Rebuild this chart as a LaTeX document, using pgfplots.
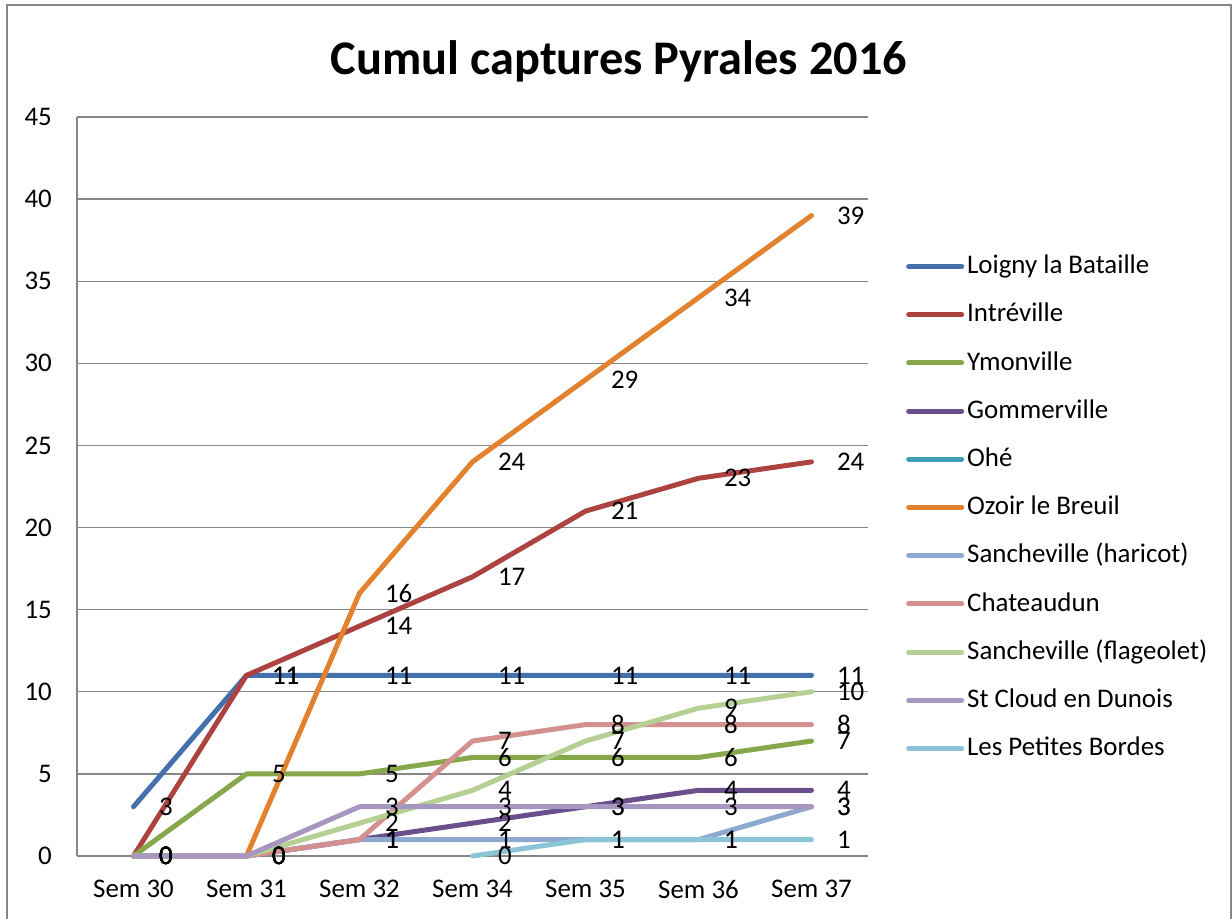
\documentclass[border=0pt]{standalone}
\usepackage{pgfplots}
\pgfplotsset{compat=1.18}
\usepackage{fontspec}
\setmainfont{Carlito}
\definecolor{cLoigny}{HTML}{4470AE}
\definecolor{cIntre}{HTML}{AD4340}
\definecolor{cYmon}{HTML}{86A84A}
\definecolor{cGomm}{HTML}{6B4F8C}
\definecolor{cOhe}{HTML}{3D9DB5}
\definecolor{cOzoir}{HTML}{E2822F}
\definecolor{cHari}{HTML}{8EA8D0}
\definecolor{cChat}{HTML}{D4908E}
\definecolor{cFlag}{HTML}{B6CF92}
\definecolor{cStCl}{HTML}{A797C0}
\definecolor{cPB}{HTML}{8BC4D6}
\definecolor{axgray}{HTML}{868686}
\begin{document}
\begin{tikzpicture}
\begin{axis}[
  at={(77bp,63bp)}, anchor=south west,
  scale only axis, width=791bp, height=739bp,
  xmin=-0.5, xmax=6.5, ymin=0, ymax=45,
  xtick={0,...,6},
  xticklabels={Sem 30,Sem 31,Sem 32,Sem 34,Sem 35,Sem 36,Sem 37},
  ytick={0,5,...,45},
  axis x line*=bottom, axis y line*=left,
  axis line style={draw=axgray, line width=1.4bp, -},
  tick style={draw=none},
  ymajorgrids, grid style={draw=axgray, line width=1.4bp},
  /pgf/number format/assume math mode=true,
  tick label style={font=\fontsize{27}{31}\selectfont, inner sep=0pt},
  yticklabel style={anchor=east, xshift=-25bp},
  xticklabel style={anchor=north, yshift=-24bp},
  clip=false,
  every axis plot/.append style={line width=5bp, line join=round, line cap=round},
  nodes near coords,
  every node near coord/.append style={anchor=west, xshift=23bp, inner sep=0pt, text=black, font=\fontsize{27}{31}\selectfont},
  legend cell align=left,
  legend image code/.code={\draw[#1] (0bp,0bp) -- (53bp,0bp);},
  legend style={at={(1.048,0.4716)}, anchor=west, draw=none, fill=none,
    inner sep=0pt, row sep=23.6bp,
    font=\fontsize{27}{31}\selectfont,
    nodes={inner sep=0pt, text height=19.5bp, text depth=5.1bp},
    /tikz/every odd column/.append style={column sep=3bp}},
]
\addplot[cLoigny] coordinates {(0,3)(1,11)(2,11)(3,11)(4,11)(5,11)(6,11)};
\addlegendentry{Loigny la Bataille}
\addplot[cIntre] coordinates {(0,0)(1,11)(2,14)(3,17)(4,21)(5,23)(6,24)};
\addlegendentry{Intréville}
\addplot[cYmon] coordinates {(0,0)(1,5)(2,5)(3,6)(4,6)(5,6)(6,7)};
\addlegendentry{Ymonville}
\addplot[cGomm] coordinates {(0,0)(1,0)(2,1)(3,2)(4,3)(5,4)(6,4)};
\addlegendentry{Gommerville}
\addlegendimage{cOhe, line width=5bp, line cap=round}
\addlegendentry{Ohé}
\addplot[cOzoir] coordinates {(1,0)(2,16)(3,24)(4,29)(5,34)(6,39)};
\addlegendentry{Ozoir le Breuil}
\addplot[cHari] coordinates {(0,0)(1,0)(2,1)(3,1)(4,1)(5,1)(6,3)};
\addlegendentry{Sancheville (haricot)}
\addplot[cChat] coordinates {(0,0)(1,0)(2,1)(3,7)(4,8)(5,8)(6,8)};
\addlegendentry{Chateaudun}
\addplot[cFlag] coordinates {(0,0)(1,0)(2,2)(3,4)(4,7)(5,9)(6,10)};
\addlegendentry{Sancheville (flageolet)}
\addplot[cStCl] coordinates {(0,0)(1,0)(2,3)(3,3)(4,3)(5,3)(6,3)};
\addlegendentry{St Cloud en Dunois}
\addplot[cPB] coordinates {(3,0)(4,1)(5,1)(6,1)};
\addlegendentry{Les Petites Bordes}
\end{axis}
\node[anchor=base, font=\fontsize{48.5}{58}\selectfont\bfseries] at (619bp,844bp) {Cumul captures Pyrales 2016};
\draw[axgray, line width=2bp] (7bp,-20bp) -- (7bp,914bp) -- (1231bp,914bp) -- (1231bp,-20bp);
\pgfresetboundingbox
\useasboundingbox (0bp,0bp) rectangle (1232bp,919bp);
\end{tikzpicture}
\end{document}
